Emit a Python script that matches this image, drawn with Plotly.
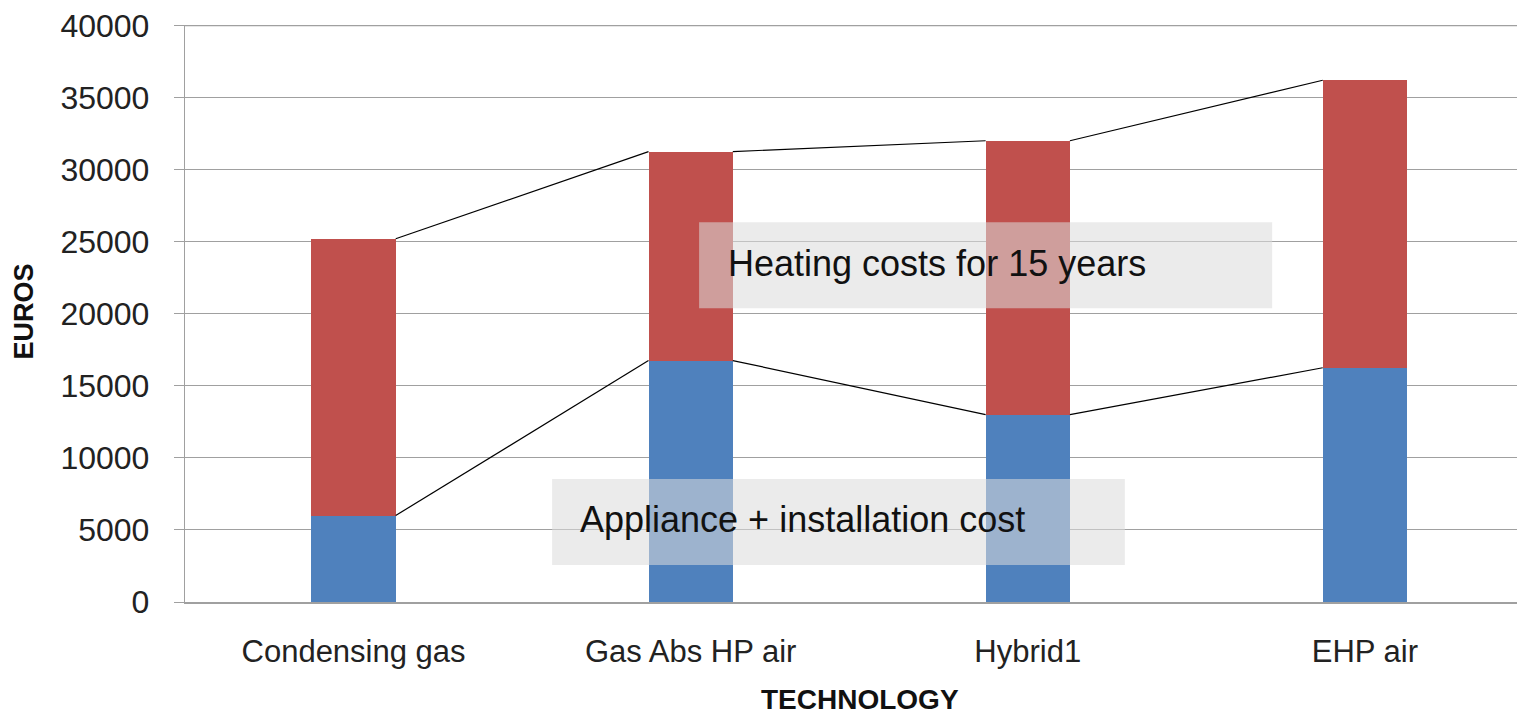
import plotly.graph_objects as go

categories = ["Condensing gas", "Gas Abs HP air", "Hybrid1", "EHP air"]
appliance_cost = [6000, 16750, 13000, 16250]
total_cost = [25200, 31250, 32000, 36200]
heating_cost = [t - a for t, a in zip(total_cost, appliance_cost)]
y_ticks = [0, 5000, 10000, 15000, 20000, 25000, 30000, 35000, 40000]

BAR_W = 0.25
FONT = "Liberation Sans"
xs = list(range(len(categories)))

fig = go.Figure()
fig.add_trace(go.Bar(x=xs, y=appliance_cost, width=BAR_W, marker=dict(color="#4f81bd", line=dict(width=0)),
                     name="Appliance + installation cost"))
fig.add_trace(go.Bar(x=xs, y=heating_cost, width=BAR_W, marker=dict(color="#c0504d", line=dict(width=0)),
                     name="Heating costs for 15 years"))

# series lines (Excel style) connecting tops of each segment
for series in (appliance_cost, total_cost):
    lx, ly = [], []
    for i in range(len(series) - 1):
        lx += [xs[i] + BAR_W / 2, xs[i + 1] - BAR_W / 2, None]
        ly += [series[i], series[i + 1], None]
    fig.add_trace(go.Scatter(x=lx, y=ly, mode="lines", line=dict(color="#000000", width=1.2),
                             hoverinfo="skip", showlegend=False))

fig.update_layout(
    barmode="stack",
    width=1517, height=708,
    margin=dict(l=177, r=0, t=17, b=114),
    paper_bgcolor="white", plot_bgcolor="white",
    showlegend=False,
    font=dict(family=FONT, color="#222222"),
    xaxis=dict(range=[-0.5, 3.475], tickvals=xs, ticktext=categories, showgrid=False,
               tickfont=dict(size=31, family=FONT, color="#222222"), ticks="",
               ticklabelstandoff=21, automargin=False,
               showline=True, linecolor="#a0a0a0", linewidth=1.5),
    yaxis=dict(range=[0, 40030], tickvals=y_ticks, ticktext=[str(v) for v in y_ticks],
               showgrid=True, gridcolor="#a0a0a0", gridwidth=1.4,
               ticks="outside", ticklen=10, tickcolor="#a0a0a0", tickwidth=1.4,
               showline=True, linecolor="#a0a0a0", linewidth=1.4,
               tickfont=dict(size=32, family=FONT, color="#222222"),
               ticklabelstandoff=18, automargin=False, ticklabeloverflow="allow",
               zeroline=False),
    shapes=[
        dict(type="line", xref="paper", yref="y", x0=0, x1=1, y0=y_ticks[-1], y1=y_ticks[-1],
             line=dict(color="#a0a0a0", width=1.4), layer="below"),
        dict(type="rect", xref="x", yref="y", x0=1.025, x1=2.725, y0=20380, y1=26340,
             fillcolor="rgba(220,220,220,0.56)", line=dict(width=0), layer="above"),
        dict(type="rect", xref="x", yref="y", x0=0.589, x1=2.288, y0=2565, y1=8530,
             fillcolor="rgba(220,220,220,0.56)", line=dict(width=0), layer="above"),
    ],
    annotations=[
        dict(text="Heating costs for 15 years", xref="x", yref="y", x=1.105, y=23450,
             xanchor="left", yanchor="middle", showarrow=False,
             font=dict(size=36, family=FONT, color="#111111")),
        dict(text="Appliance + installation cost", xref="x", yref="y", x=0.666, y=5750,
             xanchor="left", yanchor="middle", showarrow=False,
             font=dict(size=36, family=FONT, color="#111111")),
        dict(text="<b>EUROS</b>", xref="paper", yref="paper", x=-0.1205, y=0.5026,
             xanchor="center", yanchor="middle", showarrow=False, textangle=-90,
             font=dict(size=27, family=FONT, color="#111111")),
        dict(text="<b>TECHNOLOGY</b>", xref="paper", yref="paper", x=0.504, y=-0.169,
             xanchor="center", yanchor="middle", showarrow=False,
             font=dict(size=28, family=FONT, color="#111111")),
    ],
)

fig.write_html("out.html")
